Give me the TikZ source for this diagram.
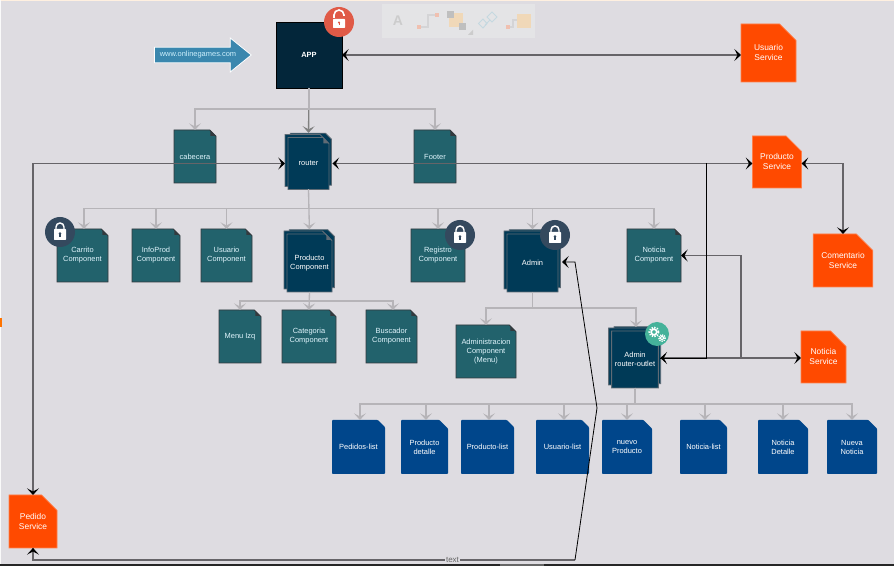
\documentclass[tikz,border=0pt]{standalone}
\usepackage{fontspec}
\setmainfont{Liberation Sans}
\usetikzlibrary{arrows.meta, shapes.misc, shapes.arrows, shadows}

\definecolor{canvas}{HTML}{DEDCE1}
\definecolor{tealfill}{HTML}{22626C}
\definecolor{navyfill}{HTML}{003A57}
\definecolor{appfill}{HTML}{03263A}
\definecolor{bluefill}{HTML}{00468B}
\definecolor{svcfill}{HTML}{FF4A00}
\definecolor{urlfill}{HTML}{3A87AE}
\definecolor{edgedark}{HTML}{333A3E}
\definecolor{edgeslate}{HTML}{5F6B75}
\definecolor{branchgray}{HTML}{B6B4B8}
\definecolor{flowgray}{HTML}{666468}
\definecolor{lockfill}{HTML}{34495E}
\definecolor{redfill}{HTML}{E05A47}
\definecolor{greenfill}{HTML}{45B29A}
\definecolor{toolbg}{HTML}{E4E4E6}
\definecolor{tooltan}{HTML}{F0D8B8}
\definecolor{toolpink}{HTML}{F0C0B0}
\definecolor{toolline}{HTML}{D4D4D6}
\definecolor{toolblue}{HTML}{C5D8E0}

\begin{document}
\begin{tikzpicture}[
    x=0.75pt, y=-0.75pt,
    sized/.style 2 args={minimum width=#1*0.75pt, minimum height=#2*0.75pt},
    sheet/.style={chamfered rectangle, chamfered rectangle corners=north east, inner sep=0pt, outer sep=0pt, align=center,
        font=\fontsize{5.6}{6.75}\selectfont},
    fold/.style={path picture={\fill[#1]
        ([xshift=-4.2pt]path picture bounding box.north east) --
        ([yshift=-4.5pt]path picture bounding box.north east) --
        ([xshift=-4.2pt,yshift=-4.5pt]path picture bounding box.north east) -- cycle;}},
    comp/.style={sheet, draw=edgedark, fill=tealfill, line width=0.7pt, text=white!88!cyan,
        chamfered rectangle xsep=2.4pt, chamfered rectangle ysep=2.6pt, fold=edgedark},
    stack/.style={sheet, draw=edgeslate, fill=navyfill, line width=0.7pt, text=white,
        chamfered rectangle xsep=2.4pt, chamfered rectangle ysep=2.6pt,
        general shadow={fill=navyfill, draw=edgeslate, shadow xshift=1.8pt, shadow yshift=3.2pt},
        general shadow={fill=navyfill, draw=edgeslate, shadow xshift=-2.25pt, shadow yshift=2.25pt},
        fold=edgeslate},
    listdoc/.style={sheet, fill=bluefill, text=white, rounded corners=0.6pt, sized={#1}{54},
        chamfered rectangle xsep=3.1pt, chamfered rectangle ysep=3.3pt},
    svc/.style={sheet, fill=svcfill, draw=svcfill!70!white, line width=0.5pt, text=white,
        font=\fontsize{6.3}{7.5}\selectfont, chamfered rectangle xsep=#1, chamfered rectangle ysep=#1},
    badge/.style={circle, inner sep=0pt, outer sep=0pt, minimum size=22.5pt, fill=lockfill},
    branch/.style={-{Stealth[length=5pt, width=9pt, inset=2.4pt]}, draw=branchgray, line width=1pt},
    flow/.style={{Stealth[length=5pt, width=9pt, inset=2.4pt, color=black]}-{Stealth[length=5pt, width=9pt, inset=2.4pt, color=black]}, draw=flowgray, line width=1.2pt},
    wire/.style={draw=black, line width=0.6pt},
    padlock/.pic={
        \draw[white, line width=1.1pt] (-4,0) -- (-4,-5) arc (180:360:4) -- (4,0);
        \fill[white, rounded corners=0.5pt] (-6,-3) rectangle (6,8);
        \fill[lockfill] (0,1.5) circle (1.4);
        \fill[lockfill] (-0.6,1.5) rectangle (0.6,5);
    },
    openlock/.pic={
        \draw[white, line width=1.2pt] (-5,-4) -- (-5,-7) arc (180:360:5) -- (5,-6);
        \fill[white, rounded corners=0.5pt] (-6,-3) rectangle (6,6);
        \fill[redfill] (0,0.5) circle (1.2);
        \fill[redfill] (-0.5,0.5) rectangle (0.5,3.5);
    },
    cogs/.pic={
        \draw[white, line width=1.2pt] (-3,-2) circle (2.8);
        \draw[white, line width=1.4pt, dash pattern=on 1pt off 1pt] (-3,-2) circle (4.6);
        \draw[white, line width=0.9pt] (5,4) circle (1.9);
        \draw[white, line width=1.1pt, dash pattern=on 0.8pt off 0.8pt] (5,4) circle (3.2);
    }
]
\useasboundingbox (0,0) rectangle (894,566);
\fill[canvas] (0,0) rectangle (894,566);
\fill[orange!12!white] (0,0) rectangle (894,1.5);
\fill[white!85!canvas] (0,0) rectangle (1.5,566);
\fill[orange!90!red] (0,318) rectangle (2,327);
\fill[black!85] (0,564) rectangle (894,566);
\fill[black!60] (500,564) rectangle (544,566);

\fill[toolbg] (382,4) rectangle (535,38);
\node[text=black!20, font=\bfseries\fontsize{10.5}{10.5}\selectfont, inner sep=0pt] (toolA) at (398,21) {A};
\draw[toolline, line width=0.8pt] (419,27) -- (428,27) -- (428,15) -- (437,15);
\fill[toolpink] (417,25) rectangle (421,29);
\fill[toolpink] (435,13) rectangle (439,17);
\fill[tooltan] (449,13) rectangle (463,27);
\fill[black!25] (446.5,11) rectangle (453.5,18);
\fill[black!25] (458.5,23) rectangle (465.5,30);
\fill[black!20] (468,35) -- (473,35) -- (473,30) -- cycle;
\draw[toolblue, line width=0.7pt] (483,19) -- (487,23.5) -- (483,28) -- (478.5,23.5) -- cycle;
\draw[toolblue, line width=0.7pt] (492,12) -- (497,17) -- (492,22) -- (487,17) -- cycle;
\draw[toolblue, line width=0.7pt] (485,25) -- (490,20);
\draw[toolline, line width=0.8pt] (508,27) -- (513,27) -- (513,20) -- (517,20);
\fill[toolpink] (506,25) rectangle (510,29);
\fill[tooltan] (517,14) rectangle (531,28);

\node[single arrow, draw=white, line width=0.6pt, fill=urlfill, inner ysep=0pt, inner xsep=3.75pt, outer sep=0pt,
    minimum height=66pt, minimum width=25.5pt, single arrow head extend=3.4pt, single arrow tip angle=78,
    text=white!80!cyan, font=\fontsize{5.6}{6.75}\selectfont] (siteUrl) at (198,55) {www.onlinegames.com};

\node[draw=black, fill=appfill, line width=0.7pt, sized={66}{66}, inner sep=0pt, outer sep=0pt, text=white,
    font=\bfseries\fontsize{5.6}{6.75}\selectfont] (app) at (309,55) {APP};

\node[comp, sized={42}{53}] (cabecera) at (195,156.5) {cabecera};
\node[stack, sized={41}{52}] (router) at (308.5,163.5) {router};
\node[comp, sized={42}{53}] (footer) at (435,156.5) {Footer};

\node[comp, sized={51}{53}] (carrito) at (82.5,255.5) {Carrito\\Component};
\node[comp, sized={48}{53}] (infoProd) at (156,255.5) {InfoProd\\Component};
\node[comp, sized={51}{53}] (usuario) at (226.5,255.5) {Usuario\\Component};
\node[stack, sized={43}{58}] (producto) at (309.5,263) {Producto\\Component};
\node[comp, sized={54}{53}] (registro) at (438,255.5) {Registro\\Component};
\node[stack, sized={51}{58}] (admin) at (532.5,263) {Admin};
\node[comp, sized={54}{53}] (noticia) at (654,255.5) {Noticia\\Component};

\node[comp, sized={42}{53}] (menuIzq) at (240,336.5) {Menu Izq};
\node[comp, sized={54}{53}] (categoria) at (309,336.5) {Categoria\\Component};
\node[comp, sized={51}{53}] (buscador) at (391.5,336.5) {Buscador\\Component};
\node[comp, sized={60}{53}] (administracion) at (486,351.5) {Administracion\\Component\\(Menu)};
\node[stack, sized={46}{57}] (outlet) at (635,359.5) {Admin\\router-outlet};

\node[listdoc=53] (pedidosList) at (358.5,447) {Pedidos-list};
\node[listdoc=47] (productoDetalle) at (424.5,447) {Producto\\detalle};
\node[listdoc=53] (productoList) at (487.5,447) {Producto-list};
\node[listdoc=53] (usuarioList) at (562.5,447) {Usuario-list};
\node[listdoc=50] (nuevoProducto) at (627,447) {nuevo\\Producto};
\node[listdoc=47] (noticiaList) at (703.5,447) {Noticia-list};
\node[listdoc=50] (noticiaDetalle) at (783,447) {Noticia\\Detalle};
\node[listdoc=50] (nuevaNoticia) at (852,447) {Nueva\\Noticia};

\node[svc=6.2pt, sized={55}{58}] (usuarioSrv) at (768.5,53) {Usuario\\Service};
\node[svc=5.8pt, sized={48}{52}] (productoSrv) at (777,162) {Producto\\Service};
\node[svc=6.2pt, sized={54}{53}] (comentarioSrv) at (843,260.5) {Comentario\\Service};
\node[svc=5.8pt, sized={45}{52}] (noticiaSrv) at (823.5,357) {Noticia\\Service};
\node[svc=5.8pt, sized={48}{53}] (pedidoSrv) at (33,521.5) {Pedido\\Service};

\draw[branch, draw=black!50, shorten >=3.5pt] (app.south) -- (router.north);
\draw[branch] (app.south) -- ++(0,21) -| (cabecera.north);
\draw[branch] (app.south) -- ++(0,21) -| (footer.north);

\draw[branch] (router.south) -- ++(0,19) -| ([xshift=1.1pt]carrito.north);
\draw[branch] (router.south) -- ++(0,19) -| (infoProd.north);
\draw[branch] (router.south) -- ++(0,19) -| (usuario.north);
\draw[branch, shorten >=3.5pt] (router.south) -- (producto.north);
\draw[branch] (router.south) -- ++(0,19) -| (registro.north);
\draw[branch, shorten >=3.5pt] (router.south) -- ++(0,19) -| (admin.north);
\draw[branch] (router.south) -- ++(0,19) -| (noticia.north);

\draw[branch] (producto.south) -- ++(0,9) -| (menuIzq.north);
\draw[branch] (producto.south) -- (categoria.north);
\draw[branch] (producto.south) -- ++(0,9) -| ([xshift=1.1pt]buscador.north);

\draw[branch] (admin.south) -- ++(0,16) -| (administracion.north);
\draw[branch, shorten >=3pt] (admin.south) -- ++(0,16) -| ([xshift=0.7pt]outlet.north);

\draw[branch] (outlet.south) -- ++(0,16) -| ([xshift=1.1pt]pedidosList.north);
\draw[branch] (outlet.south) -- ++(0,16) -| ([xshift=1.1pt]productoDetalle.north);
\draw[branch] (outlet.south) -- ++(0,16) -| ([xshift=1.1pt]productoList.north);
\draw[branch] (outlet.south) -- ++(0,16) -| ([xshift=1.1pt]usuarioList.north);
\draw[branch] (outlet.south) -- ++(0,16) -| (nuevoProducto.north);
\draw[branch] (outlet.south) -- ++(0,16) -| ([xshift=1.1pt]noticiaList.north);
\draw[branch] (outlet.south) -- ++(0,16) -| (noticiaDetalle.north);
\draw[branch] (outlet.south) -- ++(0,16) -| (nuevaNoticia.north);

\coordinate (outletPort) at ([xshift=1.5pt]outlet.east |- 0,358);
\coordinate (productoTap) at (706,358);
\coordinate (noticiaTap) at (741,358);
\coordinate (bendA) at (575,560);
\coordinate (bendB) at (597,408);
\coordinate (bendC) at (575,262);

\draw[flow] (app.east) -- (app.east -| usuarioSrv.west);
\draw[flow] ([xshift=2.6pt]router.east) -- (router.east -| productoSrv.west);
\draw[flow] (pedidoSrv.north) |- ([xshift=-2.25pt]router.west);
\draw[flow] (router.east -| productoSrv.east) -| (comentarioSrv.north);
\draw[flow] (outletPort) -- (outletPort -| noticiaSrv.west);
\draw[flow, {Stealth[length=5pt, width=9pt, inset=2.4pt, color=black]}-] (noticia.east) -| (noticiaTap);
\draw[flow, -] (pedidoSrv.south) |- node[pos=.887, fill=canvas, inner sep=1pt, text=black!60, font=\fontsize{6}{6}\selectfont] (textLabel) {text} (bendA);
\draw[flow, {Stealth[length=5pt, width=9pt, inset=2.4pt, color=black]}-] (pedidoSrv.south) -- ++(0,4);
\draw[wire] (outletPort) -- (productoTap) -- (productoTap |- router.east);
\draw[wire, -{Stealth[length=5pt, width=9pt, inset=2.4pt, color=black]}] (bendA) -- (bendB) -- (bendC) -- ([xshift=3pt]admin.east |- bendC);

\node[badge, fill=redfill] (badgeApp) at (339,22) {};
\node[badge] (badgeCarrito) at (60,232) {};
\node[badge] (badgeRegistro) at (460,235) {};
\node[badge] (badgeAdmin) at (555,235) {};
\node[badge, minimum size=18pt, fill=greenfill] (badgeOutlet) at (657,334) {};
\pic at (badgeApp) {openlock};
\pic at (badgeCarrito) {padlock};
\pic at (badgeRegistro) {padlock};
\pic at (badgeAdmin) {padlock};
\pic at (badgeOutlet) {cogs};
\end{tikzpicture}
\end{document}
